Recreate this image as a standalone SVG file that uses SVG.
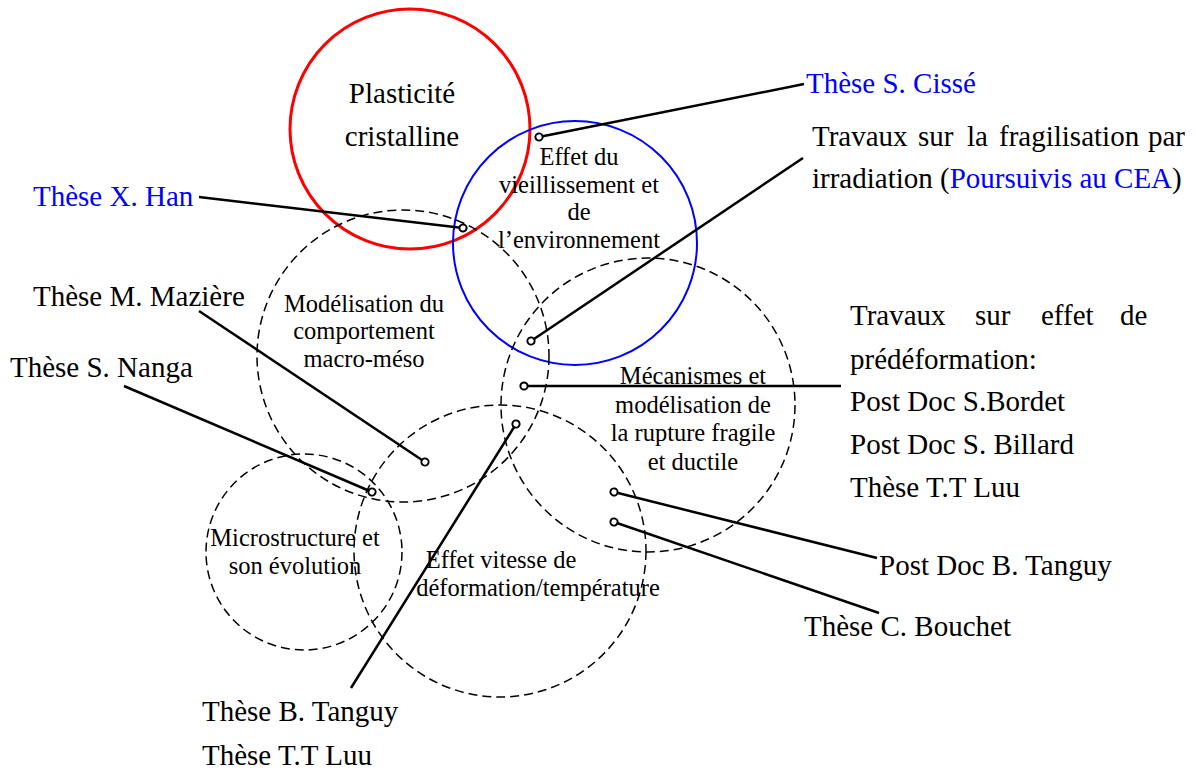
<svg xmlns="http://www.w3.org/2000/svg" width="1196" height="771" viewBox="0 0 1196 771">
<defs>
<style>
.lbl{font-family:"Liberation Serif","Times New Roman",serif;font-size:29px;fill:#000}
.in{font-family:"Liberation Serif","Times New Roman",serif;font-size:24.5px;fill:#000;text-anchor:middle}
.big{font-size:29px}
.blue{fill:#0000ff}
.dash{fill:none;stroke:#000;stroke-width:1.5;stroke-dasharray:9 5}
.conn{fill:none;stroke:#000;stroke-width:2.5;marker-start:url(#dot)}
</style>
<marker id="dot" viewBox="-5 -5 10 10" refX="0" refY="0" markerWidth="10" markerHeight="10" markerUnits="userSpaceOnUse" orient="auto">
<circle cx="0" cy="0" r="3.6" fill="#fff" stroke="#000" stroke-width="2"/>
</marker>
</defs>
<rect width="1196" height="771" fill="#fff"/>

<g id="plasticite">
<circle cx="410" cy="129" r="120" fill="none" stroke="#ff0000" stroke-width="3"/>
<text class="in big" x="402" y="103">Plasticité</text>
<text class="in big" x="402" y="146">cristalline</text>
</g>

<g id="vieillissement">
<circle cx="575" cy="243" r="122" fill="none" stroke="#0000ff" stroke-width="2"/>
<text class="in" x="579" y="165">Effet du</text>
<text class="in" x="579" y="193">vieillissement et</text>
<text class="in" x="579" y="220">de</text>
<text class="in" x="579" y="248">l’environnement</text>
</g>

<g id="modelisation">
<circle class="dash" cx="403" cy="356" r="146"/>
<text class="in" x="364" y="312">Modélisation du</text>
<text class="in" x="364" y="339">comportement</text>
<text class="in" x="364" y="367">macro-méso</text>
</g>

<g id="mecanismes">
<circle class="dash" cx="648" cy="405" r="147"/>
<text class="in" x="693" y="384">Mécanismes et</text>
<text class="in" x="693" y="413">modélisation de</text>
<text class="in" x="693" y="441">la rupture fragile</text>
<text class="in" x="693" y="470">et ductile</text>
</g>

<g id="microstructure">
<circle class="dash" cx="304" cy="552" r="98"/>
<text class="in" x="295" y="546">Microstructure et</text>
<text class="in" x="295" y="574">son évolution</text>
</g>

<g id="vitesse">
<circle class="dash" cx="500" cy="551" r="146"/>
<text class="in" x="501" y="568">Effet vitesse de</text>
<text class="in" x="538" y="596">déformation/température</text>
</g>

<g id="connectors">
<line class="conn" x1="539" y1="137" x2="804" y2="84"/>
<line class="conn" x1="463" y1="228" x2="199" y2="197"/>
<line class="conn" x1="531" y1="341" x2="803" y2="158"/>
<line class="conn" x1="524" y1="386" x2="841" y2="386"/>
<line class="conn" x1="516" y1="424" x2="351" y2="688"/>
<line class="conn" x1="614" y1="492" x2="877" y2="558"/>
<line class="conn" x1="614" y1="522" x2="879" y2="613"/>
<line class="conn" x1="425" y1="462" x2="199" y2="311"/>
<line class="conn" x1="372" y1="492" x2="124" y2="386"/>
</g>

<g id="label-cisse"><text class="lbl blue" x="806" y="93">Thèse S. Cissé</text></g>
<g id="label-fragilisation">
<text class="lbl" y="146"><tspan x="812">Travaux</tspan><tspan x="918">sur</tspan><tspan x="967">la</tspan><tspan x="999">fragilisation</tspan><tspan x="1148">par</tspan></text>
<text class="lbl" x="812" y="188">irradiation (<tspan class="blue">Poursuivis au CEA</tspan>)</text>
</g>
<g id="label-han"><text class="lbl blue" x="33" y="206">Thèse X. Han</text></g>
<g id="label-maziere"><text class="lbl" x="33" y="306">Thèse M. Mazière</text></g>
<g id="label-nanga"><text class="lbl" x="10" y="377">Thèse S. Nanga</text></g>
<g id="label-predeformation">
<text class="lbl" y="325"><tspan x="850">Travaux</tspan><tspan x="975">sur</tspan><tspan x="1041">effet</tspan><tspan x="1120">de</tspan></text>
<text class="lbl" x="850" y="369">prédéformation:</text>
<text class="lbl" x="850" y="411">Post Doc S.Bordet</text>
<text class="lbl" x="850" y="454">Post Doc S. Billard</text>
<text class="lbl" x="850" y="497">Thèse T.T Luu</text>
</g>
<g id="label-postdoc-tanguy"><text class="lbl" x="879" y="575">Post Doc B. Tanguy</text></g>
<g id="label-bouchet"><text class="lbl" x="804" y="636">Thèse C. Bouchet</text></g>
<g id="label-tanguy-luu">
<text class="lbl" x="202" y="721">Thèse B. Tanguy</text>
<text class="lbl" x="202" y="765">Thèse T.T Luu</text>
</g>
</svg>
